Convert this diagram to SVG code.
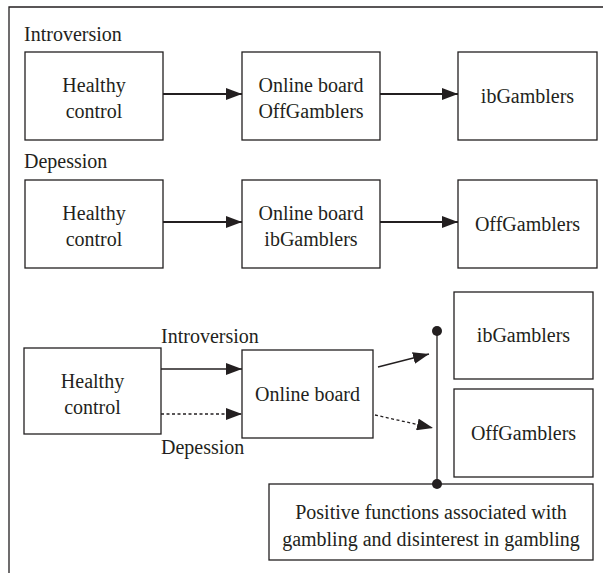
<svg xmlns="http://www.w3.org/2000/svg" width="608" height="573" viewBox="0 0 608 573">
<style>
.box{fill:#fff;stroke:#231f20;stroke-width:1.3}
.t{font-family:'Liberation Serif','Times New Roman',serif;font-size:20px;fill:#231f20}
.c{text-anchor:middle}
.a1{stroke:#231f20;stroke-width:2.2;fill:none}
.a2{stroke:#231f20;stroke-width:1.3;fill:none}
.d{stroke-dasharray:3 2.5}
.frame{stroke:#231f20;stroke-width:1.3;fill:none}
.dot{fill:#231f20}
</style>
<defs>
<marker id="ah" viewBox="0 0 16 12" refX="16" refY="6" markerWidth="16" markerHeight="12" markerUnits="userSpaceOnUse" orient="auto">
<path d="M0,0 L16,6 L0,12 Z" fill="#231f20"/>
</marker>
</defs>
<rect width="608" height="573" fill="#fff"/>
<path class="frame" d="M9,573 V7 H603"/>
<text class="t" x="24" y="41">Introversion</text>
<g id="r1-healthy"><rect class="box" x="25" y="52" width="138" height="88"/><text class="t c" x="94" y="92">Healthy</text><text class="t c" x="94" y="118">control</text></g>
<g id="r1-online"><rect class="box" x="242" y="52" width="138" height="88"/><text class="t c" x="311" y="92">Online board</text><text class="t c" x="311" y="118">OffGamblers</text></g>
<g id="r1-ib"><rect class="box" x="458" y="52" width="139" height="88"/><text class="t c" x="527.5" y="103">ibGamblers</text></g>
<text class="t" x="24" y="168">Depession</text>
<g id="r2-healthy"><rect class="box" x="25" y="180" width="138" height="88"/><text class="t c" x="94" y="220">Healthy</text><text class="t c" x="94" y="246">control</text></g>
<g id="r2-online"><rect class="box" x="242" y="180" width="138" height="88"/><text class="t c" x="311" y="220">Online board</text><text class="t c" x="311" y="246">ibGamblers</text></g>
<g id="r2-off"><rect class="box" x="458" y="180" width="139" height="88"/><text class="t c" x="527.5" y="231">OffGamblers</text></g>
<g id="s3-healthy"><rect class="box" x="24" y="348" width="137" height="86"/><text class="t c" x="92.5" y="388">Healthy</text><text class="t c" x="92.5" y="414">control</text></g>
<g id="s3-online"><rect class="box" x="242" y="350" width="131" height="88"/><text class="t c" x="307.5" y="401">Online board</text></g>
<g id="s3-ib"><rect class="box" x="454" y="292" width="139" height="87"/><text class="t c" x="523.5" y="342">ibGamblers</text></g>
<g id="s3-off"><rect class="box" x="454" y="389" width="139" height="88"/><text class="t c" x="523.5" y="440">OffGamblers</text></g>
<g id="s3-pos"><rect class="box" x="269" y="484" width="324" height="76"/><text class="t c" x="431" y="519">Positive functions associated with</text><text class="t c" x="431" y="546">gambling and disinterest in gambling</text></g>
<g id="connectors">
<line class="a1" x1="163" y1="94" x2="242" y2="94" marker-end="url(#ah)"/>
<line class="a1" x1="380" y1="94" x2="458" y2="94" marker-end="url(#ah)"/>
<line class="a1" x1="163" y1="222" x2="242" y2="222" marker-end="url(#ah)"/>
<line class="a1" x1="380" y1="222" x2="458" y2="222" marker-end="url(#ah)"/>
<line class="a2" x1="161" y1="369" x2="242" y2="369" marker-end="url(#ah)"/>
<line class="a2 d" x1="161" y1="414" x2="242" y2="414" marker-end="url(#ah)"/>
<line class="a2" x1="378" y1="367" x2="429" y2="354" marker-end="url(#ah)"/>
<line class="a2 d" x1="375" y1="415" x2="433" y2="428" marker-end="url(#ah)"/>
<line class="a2" x1="437" y1="331" x2="437" y2="484"/>
<circle class="dot" cx="437" cy="331" r="5"/>
<circle class="dot" cx="437" cy="484" r="5"/>
</g>
<text class="t" x="161" y="343">Introversion</text>
<text class="t" x="161" y="454">Depession</text>
</svg>
